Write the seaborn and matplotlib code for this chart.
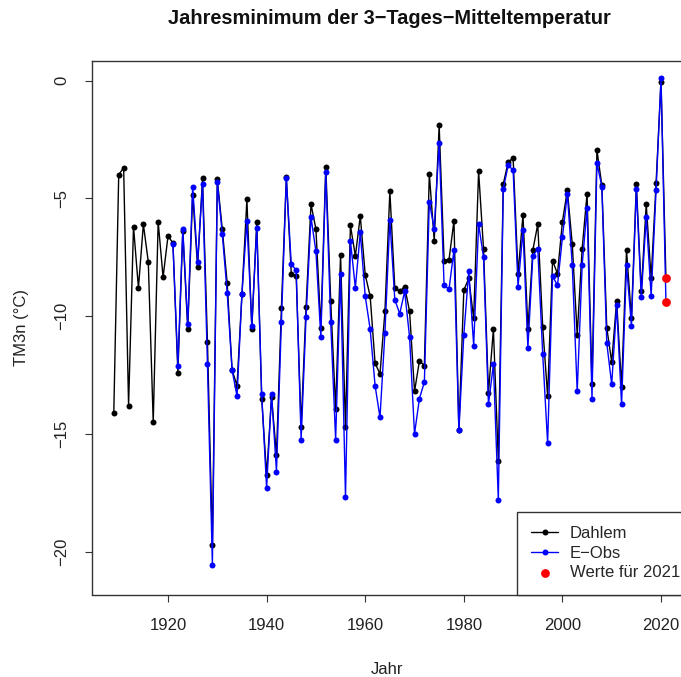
import numpy as np
import pandas as pd
import matplotlib
matplotlib.use("Agg")
import matplotlib.pyplot as plt
import seaborn as sns

# Jahresminimum der 3-Tages-Mitteltemperatur
dahlem_years = list(range(1909, 2022))
dahlem_vals = [
    -14.1, -4.0, -3.7, -13.8, -6.2, -8.8, -6.1, -7.7, -14.5, -6.0,
    -8.35, -6.6, -6.9, -12.4, -6.4, -10.55, -4.85, -7.9, -4.15, -11.1,
    -19.7, -4.2, -6.3, -8.6, -12.3, -12.95, -9.05, -5.05, -10.55, -6.0,
    -13.5, -16.75, -13.45, -15.9, -9.65, -4.1, -8.2, -8.3, -14.7, -9.6,
    -5.25, -6.3, -10.5, -3.65, -9.35, -13.95, -7.4, -14.7, -6.15, -7.45,
    -5.75, -8.25, -9.15, -12.0, -12.45, -9.8, -4.7, -8.8, -8.95, -8.75,
    -9.8, -13.2, -11.9, -12.1, -3.95, -6.8, -1.9, -7.65, -7.6, -5.95,
    -14.85, -8.9, -8.4, -10.1, -3.85, -7.15, -13.25, -10.55, -16.15, -4.4,
    -3.45, -3.3, -8.2, -5.7, -10.55, -7.2, -6.1, -10.45, -13.4, -7.65,
    -8.2, -6.0, -4.65, -6.95, -10.8, -7.15, -4.8, -12.9, -2.95, -4.45,
    -10.5, -11.95, -9.35, -13.0, -7.2, -10.1, -4.4, -8.95, -5.25, -8.4,
    -4.35, -0.05, -8.4,
]

eobs_years = list(range(1921, 2022))
eobs_vals = [
    -6.95, -12.1, -6.3, -10.35, -4.5, -7.7, -4.4, -12.05, -20.55, -4.3,
    -6.5, -9.0, -12.3, -13.4, -9.05, -5.95, -10.4, -6.25, -13.3, -17.3,
    -13.3, -16.6, -10.25, -4.15, -7.8, -8.05, -15.25, -10.05, -5.8, -7.25,
    -10.9, -3.9, -10.25, -15.25, -8.2, -17.7, -6.8, -8.8, -6.45, -9.15,
    -10.55, -12.95, -14.3, -10.7, -5.9, -9.3, -9.9, -8.95, -10.9, -15.0,
    -13.5, -12.8, -5.15, -6.3, -2.65, -8.7, -8.85, -7.2, -14.85, -10.8,
    -8.1, -11.25, -6.1, -7.5, -13.75, -12.05, -17.8, -4.6, -3.6, -3.8,
    -8.75, -6.35, -11.35, -7.45, -7.15, -11.6, -15.4, -8.3, -8.7, -6.65,
    -4.8, -7.85, -13.2, -7.85, -5.4, -13.5, -3.5, -4.5, -11.15, -12.9,
    -9.55, -13.75, -7.85, -10.4, -4.6, -9.2, -5.8, -9.15, -4.65, 0.1,
    -9.4,
]

year_2021 = [2021, 2021]
vals_2021 = [-8.4, -9.4]

dahlem = pd.DataFrame({"Jahr": dahlem_years, "TM3n": dahlem_vals})
eobs = pd.DataFrame({"Jahr": eobs_years, "TM3n": eobs_vals})
werte = pd.DataFrame({"Jahr": year_2021, "TM3n": vals_2021})

sns.set_style("ticks")
plt.rcParams["font.family"] = ["Liberation Sans", "DejaVu Sans"]

fig = plt.figure(figsize=(6.81, 6.77), dpi=100)
W, H = 681, 677
ax = fig.add_axes([91.7 / W, 1 - 594.5 / H, (683 - 91.7) / W, (594.5 - 61) / H])

sns.lineplot(data=dahlem, x="Jahr", y="TM3n", ax=ax, color="black", linewidth=1.0,
             marker="o", markersize=4.3, markeredgewidth=0, label="Dahlem")
sns.lineplot(data=eobs, x="Jahr", y="TM3n", ax=ax, color="#0000ff", linewidth=1.0,
             marker="o", markersize=4.3, markeredgewidth=0, label="E\u2212Obs")
sns.scatterplot(data=werte, x="Jahr", y="TM3n", ax=ax, color="#ff0000", s=40,
                linewidth=0, label="Werte f\u00fcr 2021", zorder=5)

ax.set_xlim(1904.52, 2024.46)
ax.set_ylim(-21.82, 0.83)
ax.set_xticks([1920, 1940, 1960, 1980, 2000, 2020])
ax.set_yticks([0, -5, -10, -15, -20])
ax.set_yticklabels(["0", "\u22125", "\u221210", "\u221215", "\u221220"],
                   rotation=90, va="center")
ax.tick_params(axis="both", direction="out", length=5, width=0.8,
               labelsize=12, colors="#333333", labelcolor="#222222")
ax.tick_params(axis="x", pad=12)
ax.tick_params(axis="y", pad=11)
for sp in ax.spines.values():
    sp.set_visible(True)
    sp.set_color("#333333")
    sp.set_linewidth(1.0)

ax.set_xlabel("Jahr", fontsize=12, color="#222222")
ax.set_ylabel("TM3n (\u00b0C)", fontsize=12, color="#222222", va="center")
ax.xaxis.set_label_coords(0.5, (594.5 - 668) / 533.5 + 0.012)
ax.yaxis.set_label_coords((22 - 91.7) / 591.3, 0.5)

fig.text(389 / W, 1 - 18 / H, "Jahresminimum der 3\u2212Tages\u2212Mitteltemperatur",
         ha="center", va="center", fontsize=14.4, fontweight="bold", color="#111111")

leg = ax.legend(loc="lower right", bbox_to_anchor=((694 - 91.7) / 591.3, 0),
                borderaxespad=0, fontsize=12, frameon=True, fancybox=False,
                framealpha=1, edgecolor="#333333", handlelength=1.6,
                handletextpad=0.7, labelspacing=0.28, borderpad=0.85)
leg.get_frame().set_linewidth(1.0)

fig.savefig("out.png", dpi=100)
